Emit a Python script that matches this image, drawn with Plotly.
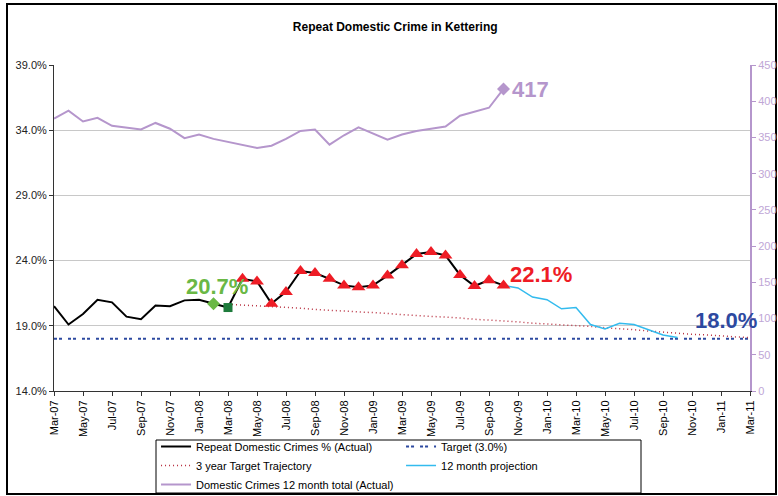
import plotly.graph_objects as go

months = ["Mar-07","Apr-07","May-07","Jun-07","Jul-07","Aug-07","Sep-07","Oct-07","Nov-07","Dec-07",
          "Jan-08","Feb-08","Mar-08","Apr-08","May-08","Jun-08","Jul-08","Aug-08","Sep-08","Oct-08","Nov-08","Dec-08",
          "Jan-09","Feb-09","Mar-09","Apr-09","May-09","Jun-09","Jul-09","Aug-09","Sep-09","Oct-09","Nov-09","Dec-09",
          "Jan-10","Feb-10","Mar-10","Apr-10","May-10","Jun-10","Jul-10","Aug-10","Sep-10","Oct-10","Nov-10","Dec-10",
          "Jan-11","Feb-11","Mar-11"]

actual_pct = [20.5, 19.1, 19.9, 21.0, 20.8, 19.7, 19.5, 20.55, 20.5, 20.95, 21.0, 20.7, 20.4,
              22.6, 22.4, 20.7, 21.6, 23.2, 23.05, 22.6, 22.1, 21.95, 22.1, 22.85, 23.65, 24.5,
              24.65, 24.4, 22.9, 22.05, 22.5, 22.1]

crimes_total = [376, 387, 372, 377, 366, 363, 361, 370, 362, 349, 354, 348, 344, 340, 335.5, 338.6,
                348, 359, 361, 340, 353, 364, 356, 347, 354, 359, 362, 365, 380, 386, 391, 417]

trajectory = [20.65, 20.6, 20.55, 20.5, 20.4, 20.35, 20.25, 20.2, 20.15, 20.05, 20.0, 19.95, 19.85,
              19.8, 19.75, 19.65, 19.6, 19.5, 19.45, 19.35, 19.3, 19.2, 19.15, 19.1, 19.0, 18.95,
              18.85, 18.8, 18.7, 18.6, 18.5, 18.45, 18.35, 18.3, 18.2, 18.15, 18.1]
trajectory_months = months[12:]

projection = [22.1, 21.9, 21.2, 21.0, 20.3, 20.4, 19.1, 18.75, 19.2, 19.1, 18.7, 18.3, 18.1]
projection_months = months[31:44]

target_value = 18.0
target = [target_value] * len(months)

actual_months = months[:len(actual_pct)]
tick_months = months[::2]
left_ticks = [14, 19, 24, 29, 34, 39]

FONT = "Liberation Sans, Arial, sans-serif"
PURPLE = "#b596cc"
PURPLE_TXT = "#c0a6d6"
RED = "#ee1c25"
GREEN = "#6ab845"
BLUE = "#2d49a0"

fig = go.Figure()

fig.add_trace(go.Scatter(x=actual_months, y=actual_pct, mode="lines", name="Repeat Domestic Crimes % (Actual)",
                         line=dict(color="black", width=2), legendrank=1))
fig.add_trace(go.Scatter(x=months, y=target, mode="lines", name="Target (3.0%)",
                         line=dict(color=BLUE, width=2, dash="3px,2px,3px,6px"), legendrank=2))
fig.add_trace(go.Scatter(x=trajectory_months, y=trajectory, mode="lines", name="3 year Target Trajectory",
                         line=dict(color="#b83040", width=1.5, dash="1px,3px"), legendrank=3))
fig.add_trace(go.Scatter(x=projection_months, y=projection, mode="lines", name="12 month projection",
                         line=dict(color="#33bbee", width=1.5), legendrank=4))
fig.add_trace(go.Scatter(x=actual_months, y=crimes_total, mode="lines", name="Domestic Crimes 12 month total (Actual)",
                         line=dict(color=PURPLE, width=2), yaxis="y2", legendrank=5))
# markers
fig.add_trace(go.Scatter(x=actual_months[13:], y=actual_pct[13:], mode="markers", showlegend=False,
                         marker=dict(symbol="triangle-up", size=12, color=RED)))
fig.add_trace(go.Scatter(x=[actual_months[11]], y=[actual_pct[11]], mode="markers", showlegend=False,
                         marker=dict(symbol="diamond", size=10, color=GREEN)))
fig.add_trace(go.Scatter(x=[actual_months[12]], y=[actual_pct[12]], mode="markers", showlegend=False,
                         marker=dict(symbol="square", size=9, color="#1e7b3c")))
fig.add_trace(go.Scatter(x=[actual_months[-1]], y=[crimes_total[-1]], mode="markers", showlegend=False,
                         yaxis="y2", marker=dict(symbol="diamond", size=10, color=PURPLE)))

annos = [
    dict(x=actual_months[11], y=actual_pct[11], text="<b>%.1f%%</b>" % actual_pct[11], font=dict(color=GREEN, size=22),
         xanchor="center", yanchor="bottom", yshift=3, xshift=3),
    dict(x=actual_months[-1], y=actual_pct[-1], text="<b>%.1f%%</b>" % actual_pct[-1], font=dict(color=RED, size=22),
         xanchor="left", yanchor="middle", xshift=4, yshift=11),
    dict(x=months[-1], y=target_value, text="<b>%.1f%%</b>" % target_value, font=dict(color=BLUE, size=22),
         xanchor="right", yanchor="bottom", xshift=9, yshift=4),
    dict(x=actual_months[-1], y=crimes_total[-1], yref="y2", text="<b>%d</b>" % crimes_total[-1],
         font=dict(color=PURPLE, size=22), xanchor="left", yanchor="middle", xshift=6, yshift=-1),
]
for a in annos:
    a.setdefault("yref", "y")
    a["xref"] = "x"
    a["showarrow"] = False

fig.update_layout(
    width=778, height=496,
    margin=dict(l=54, r=28, t=65, b=105, autoexpand=False),
    paper_bgcolor="white", plot_bgcolor="white",
    font=dict(family=FONT, size=11, color="#222"),
    title=dict(text="<b>Repeat Domestic Crime in Kettering</b>", x=0.508, xanchor="center", y=0.945, yanchor="middle",
               font=dict(size=12, color="black", family=FONT)),
    xaxis=dict(type="category", categoryorder="array", categoryarray=months, range=[0, 48],
               tickmode="array", tickvals=tick_months, ticktext=tick_months, tickangle=-90,
               ticks="outside", ticklen=4, tickcolor="#333", showline=True, linecolor="#333", linewidth=1,
               showgrid=False, tickfont=dict(size=11, color="black"), automargin=False),
    yaxis=dict(range=[14, 39], tickvals=left_ticks, ticktext=["%.1f%%" % v for v in left_ticks],
               ticks="outside", ticklen=4, tickcolor="#333", showline=True, linecolor="#333", linewidth=1,
               showgrid=True, gridcolor="#c8c8c8", gridwidth=1, zeroline=False, tickfont=dict(size=11, color="#222"),
               automargin=False),
    yaxis2=dict(overlaying="y", side="right", range=[0, 450], dtick=50, ticks="outside", ticklen=4,
                tickcolor=PURPLE, showline=True, linecolor=PURPLE, linewidth=2, showgrid=False, zeroline=False,
                tickfont=dict(size=11, color=PURPLE_TXT), automargin=False),
    legend=dict(orientation="h", x=0.1466, xanchor="left", xref="paper", y=(496 - 432) / 496, yref="container",
                yanchor="top", borderwidth=0, bgcolor="rgba(0,0,0,0)", entrywidth=200,
                font=dict(size=11, color="black"), tracegroupgap=0, itemwidth=30, traceorder="normal"),
    annotations=annos,
    shapes=[
        dict(type="rect", xref="paper", yref="paper", x0=-47/696, x1=722/696, y0=-103/326, y1=387/326,
             line=dict(color="black", width=2), fillcolor="rgba(0,0,0,0)", layer="below"),
        dict(type="rect", xref="paper", yref="paper", x0=(156 - 54)/696, x1=(641 - 54)/696,
             y0=(391 - 493)/326, y1=(391 - 440)/326,
             line=dict(color="black", width=1), fillcolor="white", layer="above"),
    ],
    showlegend=True,
)

fig.write_html("out.html", config={"displayModeBar": False},
               post_script="document.body.style.margin='0';document.body.style.overflow='hidden';")
